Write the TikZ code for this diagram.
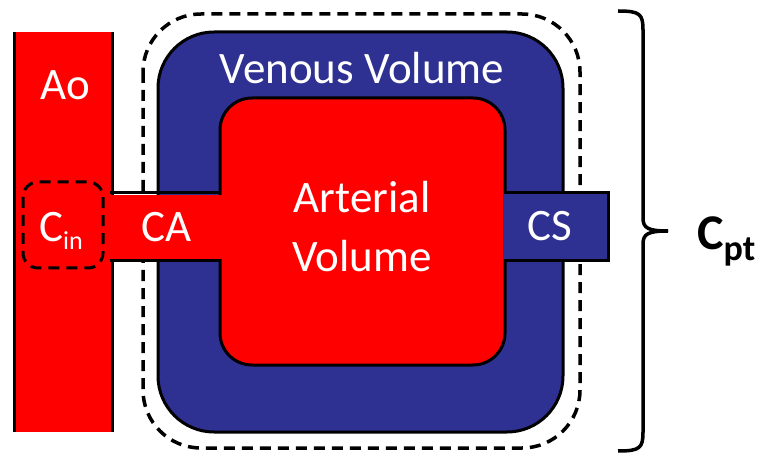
\documentclass[tikz,border=0pt]{standalone}
\usepackage{fontspec}
\setmainfont{Carlito}
\usetikzlibrary{calc}
\definecolor{artred}{RGB}{255,0,0}
\definecolor{venblue}{RGB}{46,49,146}
\newcommand{\lowsub}[2]{{\fontsize{#1}{#1}\selectfont\raisebox{-0.3em}{#2}}}

\begin{document}
\begin{tikzpicture}[x=1pt,y=-1pt]
       \tikzstyle{border} = [draw=black, line width=3pt];
       \tikzstyle{dashframe} = [draw=black, line width=3.5pt, dash pattern=on 11pt off 7pt];
       \tikzstyle{label} = [text=white, font=\fontsize{45}{59}\selectfont, inner sep=0pt, anchor=base];
       \useasboundingbox (0,0) rectangle (766,457);
       \fill[white] (0,0) rectangle (766,457);
       % venous volume and outer frame
       \draw[border, fill=venblue, rounded corners=56pt] (158,32) rectangle (563,432);
       \draw[dashframe, rounded corners=58pt] (143,14) rectangle (580,448);
       % arterial volume
       \draw[border, fill=artred, rounded corners=32pt] (220,98) rectangle (505,365);
       % CS
       \fill[venblue] (503,193) rectangle (608,261);
       \draw[border] (504,193) -- (608,193) -- (608,261) -- (504,261);
       % Ao
       \fill[artred] (14,32) rectangle (112,432);
       \draw[border] (14,32) -- (14,432);
       \draw[border] (112,32) -- (112,432);
       % CA
       \fill[artred] (111,195) rectangle (222,259);
       \draw[border] (110,193) -- (221,193);
       \draw[border] (110,261) -- (221,261);
       % C_in
       \draw[dashframe, line width=3pt, rounded corners=15pt] (23,182) rectangle (103,268);

       \node[label] (ao) at (65,100) {Ao};
       \node[label] (venous) at (362,84) {Venous Volume};
       \node[label, align=center] (arterial) at (362,272) {Arterial\\Volume};
       \node[label] (ca) at (167,242) {CA};
       \node[label] (cs) at (550,241) {CS};
       \node[label] (cin) at (61,242) {C\lowsub{26}{in}};

       % brace
       \coordinate (btop) at (618,11);
       \coordinate (bbot) at (618,451);
       \coordinate (btip) at (668,231);
       \draw[line width=3.5pt] (btop) .. controls (640,11) and (643,14) .. (643,30) -- (643,218)
             .. controls (643,228) and (648,231) .. (btip);
       \draw[line width=3.5pt] (bbot) .. controls (640,451) and (643,448) .. (643,432) -- (643,244)
             .. controls (643,234) and (648,231) .. (btip);
       \node[anchor=base west, inner sep=0pt, font=\fontsize{50}{50}\selectfont\bfseries] (cpt) at (697,250) {C\lowsub{36}{pt}};
     \end{tikzpicture}
\end{document}
